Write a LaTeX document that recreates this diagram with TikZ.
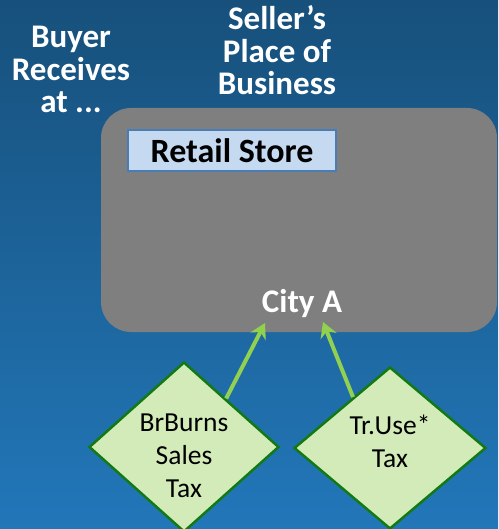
\documentclass[tikz,border=0pt]{standalone}
\usepackage{fontspec}
\setmainfont{Carlito}
\usetikzlibrary{shapes.geometric,arrows.meta}

\definecolor{bgtop}{HTML}{17507B}
\definecolor{bgbottom}{HTML}{2277B9}
\definecolor{regiongray}{HTML}{7F7F7F}
\definecolor{storefill}{HTML}{C5DAF0}
\definecolor{storeline}{HTML}{4A7DB3}
\definecolor{taxfill}{HTML}{D3EBB9}
\definecolor{taxline}{HTML}{137A13}
\definecolor{arrowgreen}{HTML}{92D050}

\begin{document}
\begin{tikzpicture}[x=1pt,y=-1pt,
  heading/.style={text=white, font=\fontsize{33}{32.5}\selectfont\bfseries, align=center, inner sep=0pt},
  taxbox/.style={diamond, draw=taxline, line width=2.5pt, fill=taxfill, inner sep=0pt, minimum width=190pt, minimum height=170pt},
  taxtext/.style={font=\fontsize{27.5}{33}\selectfont, align=center, inner sep=0pt},
  pointer/.style={draw=arrowgreen, line width=4pt, -{Stealth[length=15pt,width=17pt]}}]

% Background
\fill[top color=bgtop, bottom color=bgbottom] (0,0) rectangle (498,529);
\useasboundingbox (0,0) rectangle (498,529);

% Headings
\node[heading, anchor=base] (buyer) at (71,113) {Buyer\\Receives\\at ...};
\node[heading, anchor=base] (seller) at (277,95) {Seller’s\\Place of\\Business};

% Seller region
\node[fill=regiongray, rounded corners=30pt, minimum width=396pt, minimum height=224pt, inner sep=0pt] (region) at (299,220) {};
\node[draw=storeline, line width=2pt, fill=storefill, minimum width=208pt, minimum height=41pt, inner sep=0pt,
  font=\fontsize{34}{40}\selectfont\bfseries] (store) at (232,150.5) {Retail Store};
\node[text=white, font=\fontsize{33}{40}\selectfont\bfseries, inner sep=0pt, anchor=base] (cityA) at (302,312) {City A};

% Taxes
\node[taxbox] (sales) at (184,447) {};
\node[taxtext, anchor=base] (salestext) at (184,497) {BrBurns\\Sales\\Tax};
\node[taxbox, minimum width=192pt, minimum height=162pt] (usetax) at (390,448) {};
\node[taxtext, anchor=base] (usetaxtext) at (390,467) {Tr.Use*\\Tax};

% Arrows
\coordinate (tipL) at (265,323);
\coordinate (tipR) at (323,322);
\draw[pointer] (sales.49) -- (tipL);
\draw[pointer] (usetax.126) -- (tipR);

\end{tikzpicture}
\end{document}
